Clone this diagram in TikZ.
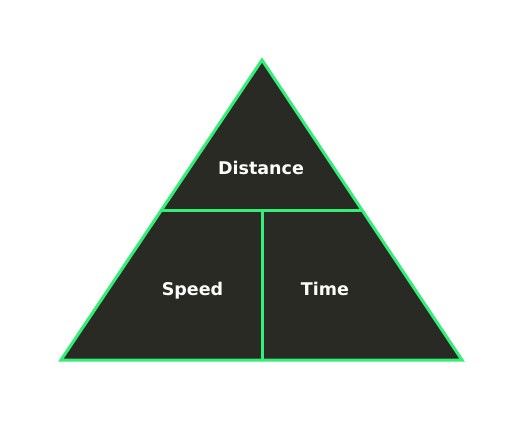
\documentclass[tikz,border=0pt]{standalone}
\usepackage{fontspec}
\setmainfont{DejaVu Sans}
\usetikzlibrary{calc}
\definecolor{edgegreen}{HTML}{33EE77}
\definecolor{darkfill}{HTML}{2A2A24}
\tikzset{
  part/.style={draw=edgegreen, line width=3pt, line join=miter},
  lbl/.style={text=white, font=\bfseries\fontsize{17.5}{21}\selectfont, inner sep=0pt, anchor=base}
}
\begin{document}
\begin{tikzpicture}[x=1pt,y=1pt]
\useasboundingbox (0,0) rectangle (523,424);
\fill[white] (0,0) rectangle (523,424);
\coordinate (apex) at (262,364);
\coordinate (bl) at (61,64);
\coordinate (br) at (462,64);
\coordinate (ml) at ($(apex)!0.503!(bl)$);
\coordinate (mr) at ($(apex)!0.503!(br)$);
\coordinate (mb) at (262,64);
\coordinate (mt) at (262,213);
\fill[darkfill] (apex) -- (bl) -- (br) -- cycle;
\draw[part] (ml) -- (mr);
\draw[part] (mt) -- (mb);
\draw[part] (apex) -- (bl) -- (br) -- cycle;
\node[lbl] (dist) at (261,249) {Distance};
\node[lbl] (speed) at (192.5,128.5) {Speed};
\node[lbl] (time) at (325,128.5) {Time};
\end{tikzpicture}
\end{document}
